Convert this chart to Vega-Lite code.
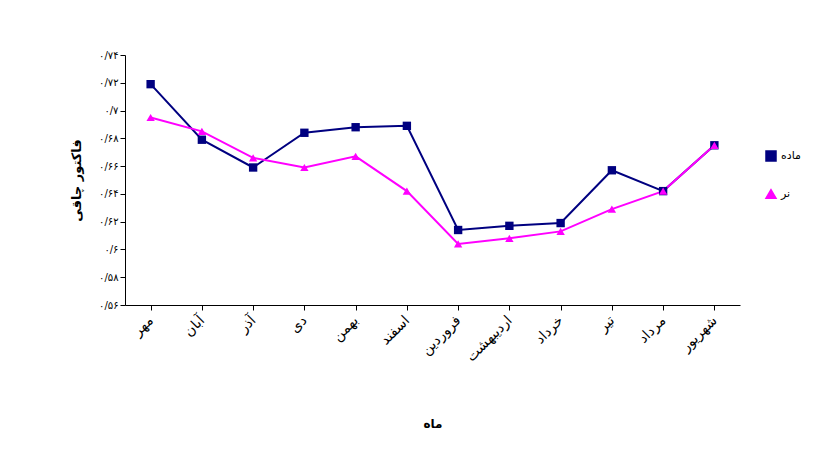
{
  "$schema": "https://vega.github.io/schema/vega-lite/v6.json",
  "width": 615,
  "height": 250,
  "autosize": "none",
  "padding": {"left": 125, "top": 55, "right": 97, "bottom": 144},
  "background": "white",
  "data": {
    "values": [
      {"m": "مهر", "i": 1, "s": "ماده", "v": 0.719},
      {"m": "آبان", "i": 2, "s": "ماده", "v": 0.679},
      {"m": "آذر", "i": 3, "s": "ماده", "v": 0.659},
      {"m": "دی", "i": 4, "s": "ماده", "v": 0.684},
      {"m": "بهمن", "i": 5, "s": "ماده", "v": 0.688},
      {"m": "اسفند", "i": 6, "s": "ماده", "v": 0.689},
      {"m": "فروردین", "i": 7, "s": "ماده", "v": 0.614},
      {"m": "اردیبهشت", "i": 8, "s": "ماده", "v": 0.617},
      {"m": "خرداد", "i": 9, "s": "ماده", "v": 0.619},
      {"m": "تیر", "i": 10, "s": "ماده", "v": 0.657},
      {"m": "مرداد", "i": 11, "s": "ماده", "v": 0.642},
      {"m": "شهریور", "i": 12, "s": "ماده", "v": 0.675},
      {"m": "مهر", "i": 1, "s": "نر", "v": 0.695},
      {"m": "آبان", "i": 2, "s": "نر", "v": 0.685},
      {"m": "آذر", "i": 3, "s": "نر", "v": 0.666},
      {"m": "دی", "i": 4, "s": "نر", "v": 0.659},
      {"m": "بهمن", "i": 5, "s": "نر", "v": 0.667},
      {"m": "اسفند", "i": 6, "s": "نر", "v": 0.642},
      {"m": "فروردین", "i": 7, "s": "نر", "v": 0.604},
      {"m": "اردیبهشت", "i": 8, "s": "نر", "v": 0.608},
      {"m": "خرداد", "i": 9, "s": "نر", "v": 0.613},
      {"m": "تیر", "i": 10, "s": "نر", "v": 0.629},
      {"m": "مرداد", "i": 11, "s": "نر", "v": 0.642},
      {"m": "شهریور", "i": 12, "s": "نر", "v": 0.675}
    ]
  },
  "encoding": {
    "x": {
      "field": "m", "type": "ordinal", "sort": {"field": "i"},
      "scale": {"paddingOuter": 0.5},
      "axis": {"title": "ماه", "labelAngle": -45, "labelAlign": "right", "labelBaseline": "middle", "labelFontSize": 14, "labelPadding": 8, "titleFontSize": 12, "titlePadding": 55, "domainColor": "black", "tickColor": "black", "labelColor": "black"}
    },
    "y": {
      "field": "v", "type": "quantitative",
      "scale": {"domain": [0.56, 0.74], "nice": false},
      "axis": {"title": "فاکتور چاقی", "titleFontSize": 13, "titleFontWeight": "bold", "titlePadding": 15, "values": [0.56, 0.58, 0.6, 0.62, 0.64, 0.66, 0.68, 0.7, 0.72, 0.74], "grid": false, "labelFontSize": 10, "domainColor": "black", "tickColor": "black", "labelColor": "black",
        "labelExpr": "replace(replace(replace(replace(replace(replace(replace(replace(replace(replace(replace(format(datum.value, '~g'), /\\./g, '/'), /0/g, '۰'), /1/g, '۱'), /2/g, '۲'), /3/g, '۳'), /4/g, '۴'), /5/g, '۵'), /6/g, '۶'), /7/g, '۷'), /8/g, '۸'), /9/g, '۹')"}
    },
    "color": {
      "field": "s", "type": "nominal",
      "scale": {"domain": ["ماده", "نر"], "range": ["#000080", "#ff00ff"]},
      "legend": {"title": null, "orient": "none", "legendX": 640, "legendY": 95, "rowPadding": 22, "labelFontSize": 11}
    },
    "shape": {
      "field": "s", "type": "nominal",
      "scale": {"domain": ["ماده", "نر"], "range": ["square", "triangle-up"]},
      "legend": {"title": null}
    }
  },
  "layer": [
    {"mark": {"type": "line", "strokeWidth": 2}},
    {"mark": {"type": "point", "filled": true, "size": 70, "opacity": 1}}
  ],
  "config": {
    "font": "DejaVu Sans",
    "view": {"stroke": null}
  }
}
